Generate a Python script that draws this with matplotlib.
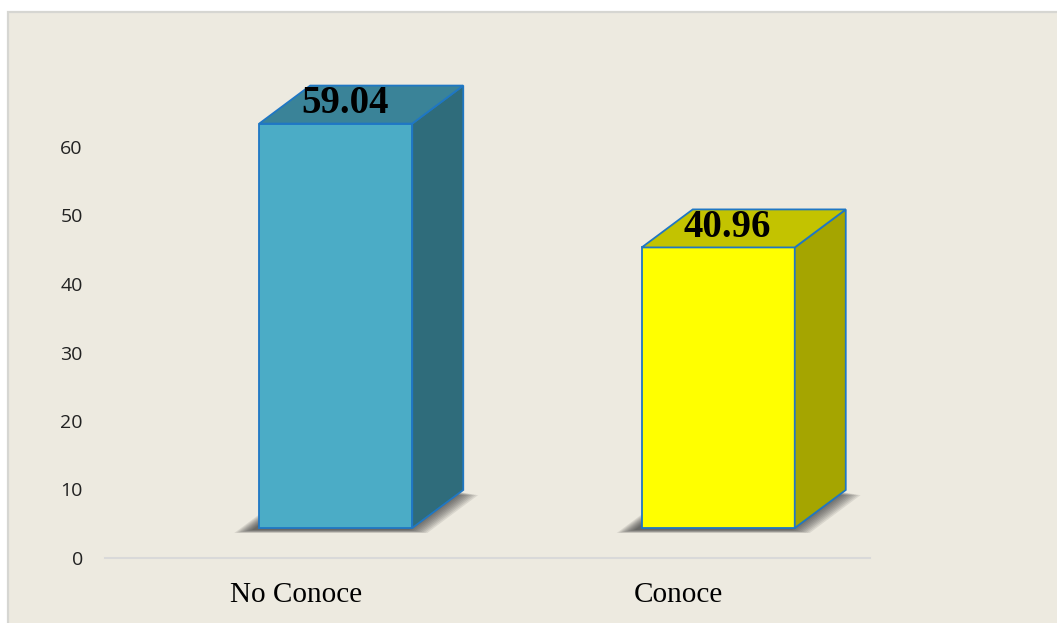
import matplotlib.pyplot as plt
from matplotlib.patches import Polygon, Rectangle

# data
categories = ['No Conoce', 'Conoce']
values = [59.04, 40.96]
value_labels = ['59.04', '40.96']
yticks = [0, 10, 20, 30, 40, 50, 60]

# bar colours (front, top, side)
front_colors = ['#4BACC6', '#FFFF00']
top_colors = ['#3A8398', '#C3C300']
side_colors = ['#2F6C7B', '#A5A500']
edge_color = '#1F77C4'

W, H = 1057, 623
fig = plt.figure(figsize=(W / 100, H / 100), dpi=100)
fig.patch.set_facecolor('white')

# chart area background with thin grey frame
bg = Rectangle((8 / W, -0.01), 1.0, (H - 12) / H + 0.01, transform=fig.transFigure,
               facecolor='#EDEAE0', edgecolor='#D6D6D2', lw=1.6, zorder=-5)
fig.patches.append(bg)

# plot area: baseline from x=105 to x=870 px, y=0 at 558 px, 68.5 px per 10
ax_left, ax_right = 105, 870
y0_px = 558
px_per_unit_y = 6.85
ymax = 70
top_px = y0_px - ymax * px_per_unit_y
ax = fig.add_axes([ax_left / W, (H - y0_px) / H, (ax_right - ax_left) / W, (y0_px - top_px) / H])
ax.set_facecolor('none')
ax.set_zorder(1)
ax.set_xlim(-0.5, 1.5)
ax.set_ylim(0, ymax)
px_per_unit_x = (ax_right - ax_left) / 2.0

for s in ['top', 'right', 'left']:
    ax.spines[s].set_visible(False)
ax.spines['bottom'].set_color('#D9D9D9')
ax.spines['bottom'].set_linewidth(1.5)

ax.set_yticks(yticks)
ax.set_yticklabels([str(t) for t in yticks], fontname='Open Sans', fontsize=14, color='#222222')
ax.tick_params(axis='y', length=0, pad=16)
ax.set_xticks(range(len(categories)))
ax.set_xticklabels(categories, fontname='Liberation Serif', fontsize=21, color='black')
ax.tick_params(axis='x', length=0, pad=17)
ax.get_xticklabels()[1].set_x(-0.01)

# 3D geometry (in data units)
front_l = -37 / px_per_unit_x
front_w = 153 / px_per_unit_x
dx = 51 / px_per_unit_x
dy = 38 / px_per_unit_y
yoff = 30 / px_per_unit_y

for i, v in enumerate(values):
    x0 = i + front_l
    x1 = x0 + front_w
    yb = yoff
    yt = yoff + v

    # soft shadow under the footprint
    n = 10
    for k in range(n):
        g = k / (n - 1)
        sx = -5 / px_per_unit_x
        sy = (-5 + 3 * g) / px_per_unit_y
        grow = (20 - 18 * g) / px_per_unit_x
        shadow = Polygon([(x0 + sx - grow, yb + sy), (x1 + sx + grow, yb + sy),
                          (x1 + dx + sx + grow, yb + dy + sy), (x0 + dx + sx - grow, yb + dy + sy)],
                         closed=True, facecolor='#2A2A2A', edgecolor='none', alpha=0.1,
                         zorder=1, clip_on=False)
        ax.add_patch(shadow)

    front = Polygon([(x0, yb), (x1, yb), (x1, yt), (x0, yt)], closed=True,
                    facecolor=front_colors[i], edgecolor=edge_color, lw=1.3, zorder=3, clip_on=False)
    side = Polygon([(x1, yb), (x1 + dx, yb + dy), (x1 + dx, yt + dy), (x1, yt)], closed=True,
                   facecolor=side_colors[i], edgecolor=edge_color, lw=1.3, zorder=3, clip_on=False)
    top = Polygon([(x0, yt), (x1, yt), (x1 + dx, yt + dy), (x0 + dx, yt + dy)], closed=True,
                  facecolor=top_colors[i], edgecolor=edge_color, lw=1.3, zorder=3, clip_on=False)
    for p in (front, side, top):
        ax.add_patch(p)

    ax.text(x0 + front_w / 2 + 9 / px_per_unit_x, yt + dy / 2 + 0.1, value_labels[i],
            ha='center', va='center', fontname='Liberation Serif', fontweight='bold',
            fontsize=28, color='black', zorder=5)

fig.savefig('out.png', dpi=100, facecolor=fig.get_facecolor())
